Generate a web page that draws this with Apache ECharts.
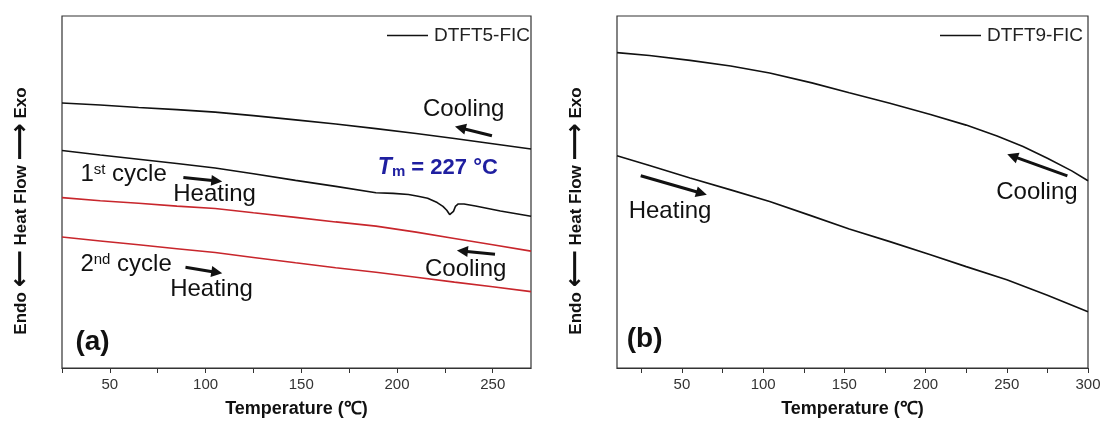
<!DOCTYPE html>
<html>
<head>
<meta charset="utf-8">
<script src="https://cdn.jsdelivr.net/npm/echarts@6.0.0/dist/echarts.min.js"></script>
<style>
  html, body { margin: 0; padding: 0; background: #fff; }
  #chart { width: 1104px; height: 423px; }
</style>
</head>
<body>
<div id="chart"></div>
<script>
// panel (a) DTFT5-FIC, temperatures in °C, heat flow in arbitrary units
const tempsA = [25, 45, 65, 85, 105, 125, 147, 168, 189, 210, 230, 250, 270]
const cool1A = [75.3, 74.7, 74.0, 73.4, 72.7, 71.7, 70.5, 69.3, 68.0, 66.6, 65.2, 63.7, 62.2]
const heat1T = [25, 45, 65, 85, 105, 125, 147, 168, 189, 198, 206, 211, 216, 221, 224, 226, 227.5, 228.5, 229.5, 230.5, 232, 235, 241, 254, 270]
const heat1A = [61.8, 60.5, 59.3, 58.1, 56.8, 55.2, 53.3, 51.6, 49.8, 49.6, 49.3, 48.8, 48.2, 47.0, 45.9, 44.8, 43.6, 43.3, 44.5, 45.9, 46.6, 46.6, 46.0, 44.6, 43.1]
const cool2A = [48.4, 47.5, 46.8, 46.0, 45.3, 44.1, 42.8, 41.5, 40.3, 38.6, 36.8, 35.0, 33.2]
const heat2A = [37.2, 36.1, 35.0, 33.9, 32.8, 31.4, 29.9, 28.5, 27.2, 25.8, 24.4, 23.1, 21.7]

// panel (b) DTFT9-FIC
const coolTB = [10, 30, 55, 80, 104, 130, 153, 178, 203, 225, 244, 260, 275, 290, 300]
const coolB = [89.6, 88.8, 87.4, 85.8, 83.8, 81.0, 78.2, 75.2, 72.0, 69.0, 65.9, 62.9, 59.6, 56.0, 53.2]
const heatTB = [10, 30, 55, 80, 104, 128, 153, 178, 203, 225, 250, 275, 300]
const heatB = [60.3, 57.5, 54.0, 50.6, 47.3, 43.5, 39.5, 35.9, 32.2, 28.8, 25.1, 20.7, 16.0]

// axis ticks / labels
const ticksA = [25, 50, 75, 100, 125, 150, 175, 200, 225, 250]
const labelsA = [50, 100, 150, 200, 250]
const ticksB = [25, 50, 75, 100, 125, 150, 175, 200, 225, 250, 275, 300]
const labelsB = [50, 100, 150, 200, 250, 300]

const FONT = '"Liberation Sans", Arial, sans-serif'
const INK = '#111'
const RED = '#c8262c'
const BLUE = '#1f1fa0'

const zip = (xs, ys) => xs.map((x, i) => [x, ys[i]])

const chart = echarts.init(document.getElementById('chart'))

function xAxisOf (gi, min, max, ticks, labels) {
  return {
    type: 'value', gridIndex: gi, min: min, max: max,
    axisLine: { lineStyle: { color: '#333', width: 1.2 } },
    axisTick: { customValues: ticks, length: 5, lineStyle: { color: '#333' } },
    axisLabel: { customValues: labels, fontSize: 15, color: '#333', margin: 9, fontFamily: FONT },
    splitLine: { show: false },
    name: 'Temperature (℃)', nameLocation: 'middle', nameGap: 32,
    nameTextStyle: { fontSize: 18, fontWeight: 'bold', color: '#111', fontFamily: FONT }
  }
}

function yAxisOf (gi) {
  return {
    type: 'value', gridIndex: gi, min: 0, max: 100,
    axisLine: { show: false }, axisTick: { show: false }, axisLabel: { show: false },
    splitLine: { show: false },
    name: 'Endo {a|⟵} Heat Flow {a|⟶} Exo', nameLocation: 'middle', nameRotate: 90, nameGap: 28,
    nameTextStyle: {
      fontSize: 17, fontWeight: 'bold', color: '#111', fontFamily: FONT,
      padding: [0, 38, 0, 0],
      rich: { a: { fontSize: 26, fontWeight: 'bold', color: '#111', fontFamily: 'DejaVu Sans' } }
    }
  }
}

function line (name, gi, data, color) {
  return {
    name: name, type: 'line', xAxisIndex: gi, yAxisIndex: gi, data: data,
    symbol: 'none', smooth: false, silent: true,
    lineStyle: { color: color, width: 1.6 }, itemStyle: { color: color }
  }
}

function legendOf (name, left) {
  return {
    data: [name], left: left, top: 26, padding: 0, icon: 'rect',
    itemWidth: 41, itemHeight: 1.6, itemGap: 5, selectedMode: false,
    textStyle: { fontSize: 19, color: '#222', fontFamily: FONT, padding: [0, 0, 0, 1] }
  }
}

const option = {
  animation: false,
  grid: [
    { left: 62, right: 573, top: 16, bottom: 54, show: true, borderColor: '#333', borderWidth: 1.2 },
    { left: 617, right: 16, top: 16, bottom: 53, show: true, borderColor: '#333', borderWidth: 1.2 }
  ],
  legend: [legendOf('DTFT5-FIC', 387), legendOf('DTFT9-FIC', 940)],
  xAxis: [xAxisOf(0, 25, 270, ticksA, labelsA), xAxisOf(1, 10, 300, ticksB, labelsB)],
  yAxis: [yAxisOf(0), yAxisOf(1)],
  series: [
    line('DTFT5-FIC', 0, zip(tempsA, cool1A), INK),
    line('1st heating', 0, zip(heat1T, heat1A), INK),
    line('2nd cooling', 0, zip(tempsA, cool2A), RED),
    line('2nd heating', 0, zip(tempsA, heat2A), RED),
    line('DTFT9-FIC', 1, zip(coolTB, coolB), INK),
    line('heating b', 1, zip(heatTB, heatB), INK)
  ]
}

chart.setOption(option)

// annotations anchored in data coordinates [T, v]
const supStyle = { font: '15px ' + FONT, fill: INK, verticalAlign: 'top' }
const notes = [
  { g: 0, at: [213.6, 73.4], text: 'Cooling' },
  { g: 0, at: [190, 56.9], text: '{t|T}{m|m}{r| = 227 °C}', color: BLUE },
  { g: 0, at: [34.6, 55.0], text: '1{sup|st} cycle' },
  { g: 0, at: [83.1, 49.3], text: 'Heating' },
  { g: 0, at: [34.6, 29.5], text: '2{sup|nd} cycle' },
  { g: 0, at: [81.5, 22.4], text: 'Heating' },
  { g: 0, at: [214.6, 28.0], text: 'Cooling' },
  { g: 0, at: [32, 7.4], text: '(a)', bold: 28 },
  { g: 1, at: [17.2, 44.4], text: 'Heating' },
  { g: 1, at: [243.5, 50.0], text: 'Cooling' },
  { g: 1, at: [16, 8.2], text: '(b)', bold: 28 }
]
const arrows = [
  { g: 0, from: [249.6, 66.0], to: [230.3, 68.6] },
  { g: 0, from: [88.4, 54.1], to: [108.7, 53.0] },
  { g: 0, from: [89.5, 28.6], to: [108.7, 26.9] },
  { g: 0, from: [251.2, 32.3], to: [231.3, 33.4] },
  { g: 1, from: [24.6, 54.6], to: [65.3, 49.2] },
  { g: 1, from: [287.3, 54.6], to: [250.3, 60.7] }
]

const toPx = (g, p) => chart.convertToPixel({ gridIndex: g }, p)

function arrowShape (p0, p1) {
  const dx = p1[0] - p0[0], dy = p1[1] - p0[1]
  const len = Math.hypot(dx, dy), ux = dx / len, uy = dy / len
  const hl = 11, hw = 5.5
  const bx = p1[0] - ux * hl, by = p1[1] - uy * hl
  return [
    { type: 'line', silent: true, shape: { x1: p0[0], y1: p0[1], x2: bx + ux, y2: by + uy },
      style: { stroke: INK, lineWidth: 3 } },
    { type: 'polygon', silent: true,
      shape: { points: [[p1[0], p1[1]], [bx - uy * hw, by + ux * hw], [bx + uy * hw, by - ux * hw]] },
      style: { fill: INK } }
  ]
}

const graphic = []
notes.forEach(n => {
  const p = toPx(n.g, n.at)
  const color = n.color || INK
  const font = n.bold ? 'bold ' + n.bold + 'px ' + FONT
    : (n.color ? 'bold 22px ' + FONT : '24px ' + FONT)
  graphic.push({
    type: 'text', x: p[0], y: p[1], silent: true,
    style: {
      text: n.text, font: font, fill: color, verticalAlign: 'middle',
      rich: {
        sup: supStyle,
        t: { font: 'italic bold 23px ' + FONT, fill: color },
        m: { font: 'bold 15px ' + FONT, fill: color, verticalAlign: 'bottom' },
        r: { font: 'bold 22px ' + FONT, fill: color }
      }
    }
  })
})
arrows.forEach(a => {
  graphic.push.apply(graphic, arrowShape(toPx(a.g, a.from), toPx(a.g, a.to)))
})

chart.setOption({ graphic: graphic })

window.addEventListener('resize', () => chart.resize())
</script>
</body>
</html>
